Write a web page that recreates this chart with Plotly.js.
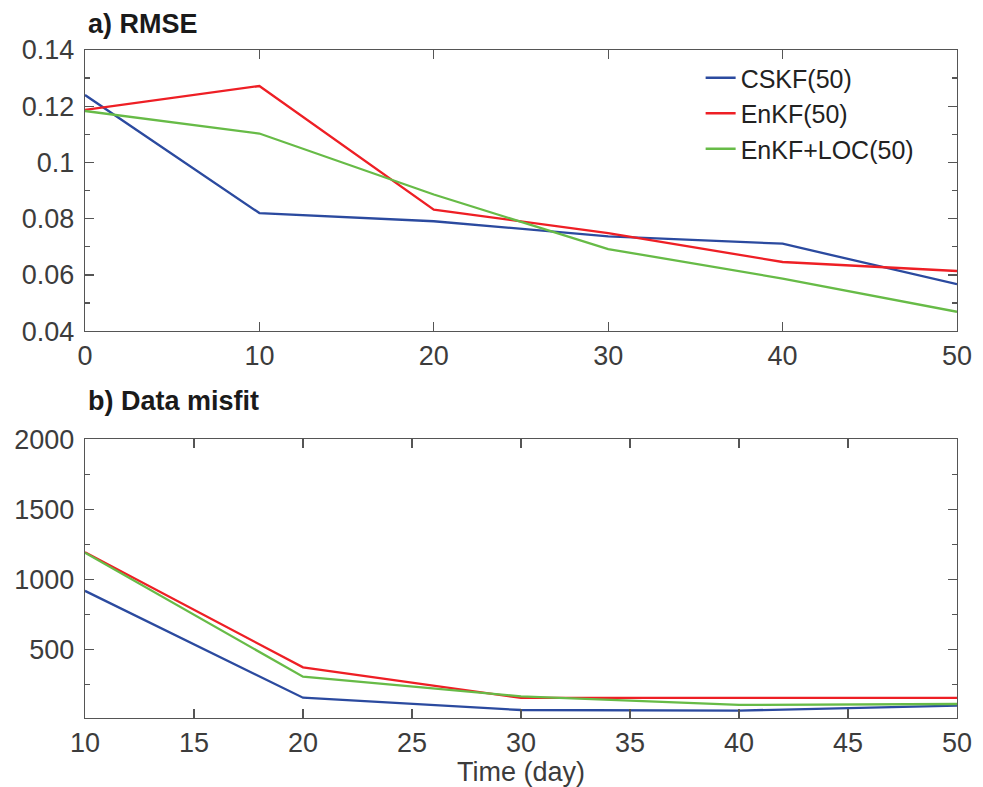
<!DOCTYPE html>
<html>
<head>
<meta charset="utf-8">
<script src="https://cdn.plot.ly/plotly-3.0.1.min.js"></script>
<style>html,body{margin:0;padding:0;background:#fff;}#chart{width:983px;height:787px;}</style>
</head>
<body>
<div id="chart"></div>
<script>
// RMSE panel
const timeRMSE = [0, 10, 20, 30, 40, 50];
const rmseCSKF = [0.1240, 0.0820, 0.0791, 0.0737, 0.0711, 0.0567];
const rmseEnKF = [0.1187, 0.1272, 0.0832, 0.0749, 0.0646, 0.0614];
const rmseEnKFLOC = [0.1183, 0.1103, 0.0886, 0.0692, 0.0587, 0.0469];
// Data misfit panel
const timeMisfit = [10, 20, 30, 40, 50];
const misfitCSKF = [918, 155, 67, 63, 98];
const misfitEnKF = [1194, 372, 153, 153, 153];
const misfitEnKFLOC = [1190, 305, 165, 103, 110];

const names = ['CSKF(50)', 'EnKF(50)', 'EnKF+LOC(50)'];
const colors = ['#2b4a9f', '#ee1f25', '#67bb47'];

const lw = 2.3;
const traces = [
  {x: timeRMSE, y: rmseCSKF, name: names[0], line: {color: colors[0], width: lw}, xaxis: 'x', yaxis: 'y'},
  {x: timeRMSE, y: rmseEnKF, name: names[1], line: {color: colors[1], width: lw}, xaxis: 'x', yaxis: 'y'},
  {x: timeRMSE, y: rmseEnKFLOC, name: names[2], line: {color: colors[2], width: lw}, xaxis: 'x', yaxis: 'y'},
  {x: timeMisfit, y: misfitCSKF, name: names[0], line: {color: colors[0], width: lw}, xaxis: 'x2', yaxis: 'y2', showlegend: false},
  {x: timeMisfit, y: misfitEnKF, name: names[1], line: {color: colors[1], width: lw}, xaxis: 'x2', yaxis: 'y2', showlegend: false},
  {x: timeMisfit, y: misfitEnKFLOC, name: names[2], line: {color: colors[2], width: lw}, xaxis: 'x2', yaxis: 'y2', showlegend: false}
].map(t => Object.assign({type: 'scatter', mode: 'lines'}, t));

const FONT = 'Liberation Sans, Arial, sans-serif';
const axCol = '#555555';
const tickFont = {family: FONT, size: 27, color: '#3c3c3c'};
const baseAxis = {
  showline: true, linecolor: axCol, linewidth: 1.3, mirror: 'ticks',
  ticks: 'inside', ticklen: 9, tickwidth: 1.3, tickcolor: axCol,
  showgrid: false, zeroline: false, tickfont: tickFont
};

const H = 668.8;
const layout = {
  width: 983, height: 787,
  margin: {l: 85, r: 26, t: 49.5, b: 68.7},
  paper_bgcolor: '#ffffff', plot_bgcolor: '#ffffff',
  showlegend: true,
  legend: {
    x: 0.706, y: 0.9925, xanchor: 'left', yanchor: 'top',
    bgcolor: 'rgba(0,0,0,0)', borderwidth: 0,
    font: {family: FONT, size: 25, color: '#222222'},
    tracegroupgap: 0
  },
  xaxis: Object.assign({}, baseAxis, {domain: [0, 1], range: [0, 50], tickvals: [0, 10, 20, 30, 40, 50], anchor: 'y'}),
  yaxis: Object.assign({}, baseAxis, {domain: [(718.3 - 331) / H, 1], range: [0.04, 0.14], tickvals: [0.04, 0.06, 0.08, 0.1, 0.12, 0.14],
    ticktext: ['0.04', '0.06', '0.08', '0.1', '0.12', '0.14'], anchor: 'x', ticklabelstandoff: 4,
    minor: {tickvals: [0.05, 0.07, 0.09, 0.11, 0.13], ticks: 'inside', ticklen: 5, tickcolor: axCol, tickwidth: 1.3}}),
  xaxis2: Object.assign({}, baseAxis, {domain: [0, 1], range: [10, 50], tickvals: [10, 15, 20, 25, 30, 35, 40, 45, 50], anchor: 'y2',
    title: {text: 'Time (day)', font: {family: FONT, size: 27, color: '#3c3c3c'}, standoff: 0}}),
  yaxis2: Object.assign({}, baseAxis, {domain: [0, (718.3 - 439.3) / H], range: [10, 2000], tickvals: [500, 1000, 1500, 2000], anchor: 'x2',
    ticklabelstandoff: 4,
    minor: {tickvals: [250, 750, 1250, 1750], ticks: 'inside', ticklen: 5, tickcolor: axCol, tickwidth: 1.3}}),
  annotations: [
    {text: '<b>a) RMSE</b>', xref: 'paper', yref: 'paper', x: 0.001, y: 1 + 9.5 / H, xanchor: 'left', yanchor: 'bottom',
      showarrow: false, font: {family: FONT, size: 27, color: '#1a1a1a'}},
    {text: '<b>b) Data misfit</b>', xref: 'paper', yref: 'paper', x: 0.001, y: (718.3 - 439.3 + 21) / H, xanchor: 'left', yanchor: 'bottom',
      showarrow: false, font: {family: FONT, size: 27, color: '#1a1a1a'}}
  ]
};

Plotly.newPlot('chart', traces, layout, {displayModeBar: false, staticPlot: true});
</script>
</body>
</html>
